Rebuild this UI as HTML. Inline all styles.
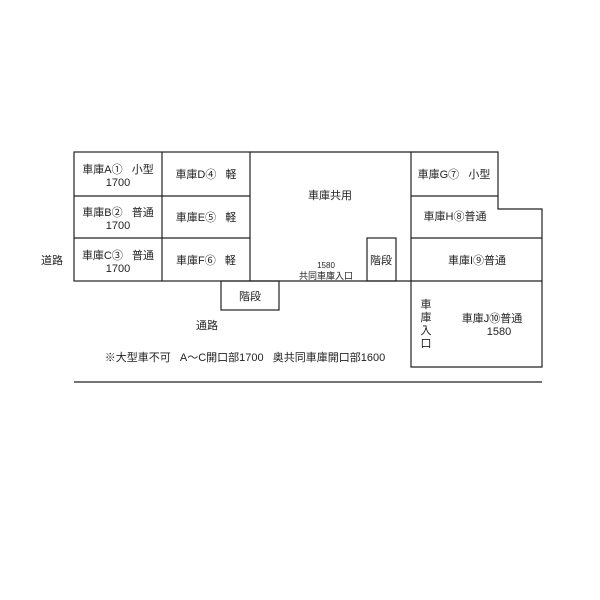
<!DOCTYPE html>
<html><head><meta charset="utf-8"><style>
html,body{margin:0;padding:0;background:#fff;width:600px;height:600px;overflow:hidden}
text{font-family:"Liberation Sans","Noto Sans CJK JP",sans-serif;fill:#222;font-size:11px}
</style></head><body>
<svg width="600" height="600" viewBox="0 0 600 600" xmlns="http://www.w3.org/2000/svg">
<g fill="none" stroke="#222" stroke-width="1.2">
<rect x="74" y="152" width="176" height="129"/>
<line x1="162" y1="152" x2="162" y2="281"/>
<line x1="74" y1="196" x2="250" y2="196"/>
<line x1="74" y1="238" x2="250" y2="238"/>
<line x1="250" y1="152" x2="411" y2="152"/>
<line x1="250" y1="281" x2="411" y2="281"/>
<rect x="221" y="281" width="58" height="29"/>
<rect x="367" y="238" width="29" height="43"/>
<path d="M411 152 H498 V209 H542 V367 H411 Z"/>
<line x1="411" y1="196" x2="498" y2="196"/>
<line x1="411" y1="238" x2="542" y2="238"/>
<line x1="411" y1="281" x2="542" y2="281"/>
<line x1="74" y1="382" x2="542" y2="382"/>
</g>
<g text-anchor="middle">
<text x="118" y="173">車庫A①&#160;&#160;&#160;小型</text><text x="118" y="186">1700</text>
<text x="118" y="216">車庫B②&#160;&#160;&#160;普通</text><text x="118" y="229">1700</text>
<text x="118" y="259">車庫C③&#160;&#160;&#160;普通</text><text x="118" y="272">1700</text>
<text x="206" y="178">車庫D④&#160;&#160;&#160;軽</text>
<text x="206" y="221">車庫E⑤&#160;&#160;&#160;軽</text>
<text x="206" y="264">車庫F⑥&#160;&#160;&#160;軽</text>
<text x="330" y="199">車庫共用</text>
<text x="326" y="268" style="font-size:8px">1580</text>
<text x="326" y="279" style="font-size:9px">共同車庫入口</text>
<text x="381" y="264">階段</text>
<text x="250" y="300">階段</text>
<text x="454" y="178">車庫G⑦&#160;&#160;&#160;小型</text>
<text x="455" y="220">車庫H⑧普通</text>
<text x="477" y="264">車庫I⑨普通</text>
<text x="492" y="322">車庫J⑩普通</text><text x="499" y="335">1580</text>
<text x="426" y="308">車</text><text x="426" y="321">庫</text><text x="426" y="334">入</text><text x="426" y="347">口</text>
<text x="52" y="264">道路</text>
<text x="207" y="329">通路</text>
<text x="245" y="361">※大型車不可&#160;&#160;&#160;A～C開口部1700&#160;&#160;&#160;奥共同車庫開口部1600</text>
</g>
</svg>
</body></html>
